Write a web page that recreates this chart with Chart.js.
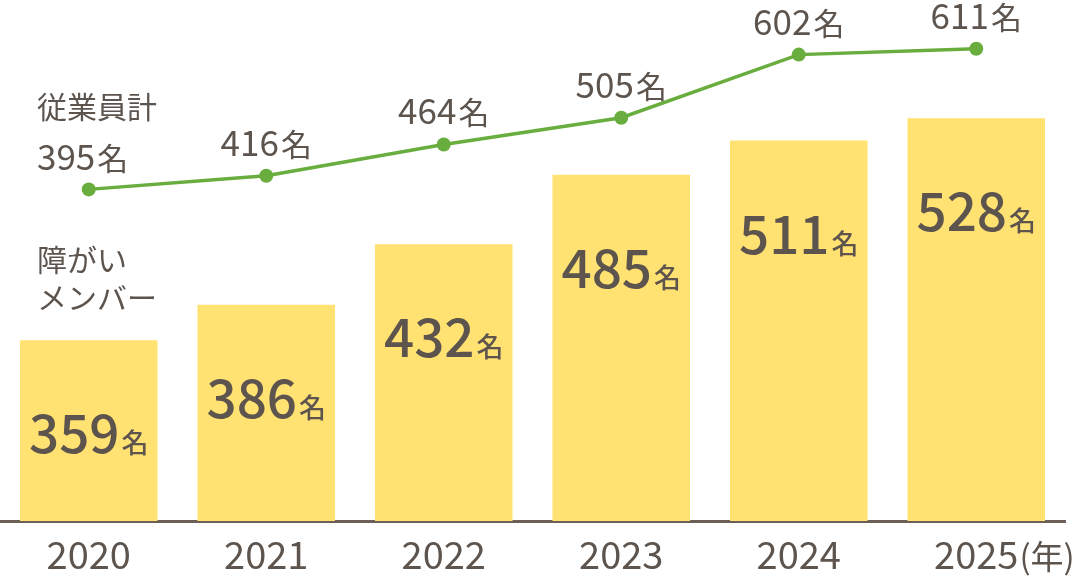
<!DOCTYPE html>
<html><head><meta charset="utf-8">
<script src="https://cdn.jsdelivr.net/npm/chart.js@4"></script>
<style>html,body{margin:0;padding:0;background:#fff}</style>
</head><body>
<canvas id="c" width="1080" height="576" style="width:1080px;height:576px;display:block"></canvas>
<script>
const years = ['2020','2021','2022','2023','2024','2025'];
const memberCounts = [359, 386, 432, 485, 511, 528];
const employeeTotals = [395, 416, 464, 505, 602, 611];
const unitLabel = '名';
const yearUnitLabel = '(年)';
const employeeTitle = '従業員計';
const memberTitle = ['障がい', 'メンバー'];

const FONT = '"Noto Sans CJK JP", "Noto Sans", sans-serif';
const TEXT = '#5d544e';
const BAR = '#ffe272';
const GREEN = '#68ad3d';

function drawMixed(ctx, num, numFont, unitFont, x, yb, align) {
  ctx.font = numFont;
  const w1 = ctx.measureText(num).width;
  ctx.font = unitFont;
  const w2 = ctx.measureText(unitLabel).width;
  const gap = 2;
  const total = w1 + gap + w2;
  const x0 = align === 'center' ? x - total / 2 : x;
  ctx.textAlign = 'left';
  ctx.textBaseline = 'alphabetic';
  ctx.font = numFont;
  ctx.fillText(num, x0, yb);
  ctx.font = unitFont;
  ctx.fillText(unitLabel, x0 + w1 + gap, yb);
}

const labelPlugin = {
  id: 'customLabels',
  afterDatasetsDraw(chart) {
    const ctx = chart.ctx;
    ctx.save();
    ctx.fillStyle = TEXT;
    chart.getDatasetMeta(1).data.forEach((el, i) => {
      drawMixed(ctx, String(memberCounts[i]), '500 53px ' + FONT, '500 27px ' + FONT, el.x, el.y + 113, 'center');
    });
    chart.getDatasetMeta(0).data.forEach((el, i) => {
      if (i === 0) return;
      drawMixed(ctx, String(employeeTotals[i]), '35px ' + FONT, '31px ' + FONT, el.x, el.y - 20, 'center');
    });
    drawMixed(ctx, String(employeeTotals[0]), '35px ' + FONT, '31px ' + FONT, 37, 170, 'left');
    ctx.textAlign = 'left';
    ctx.textBaseline = 'middle';
    ctx.font = '30px ' + FONT;
    ctx.fillText(employeeTitle, 37, 107);
    ctx.fillText(memberTitle[0], 37, 260);
    ctx.fillText(memberTitle[1], 37, 298);
    ctx.restore();
  },
  afterDraw(chart) {
    const ctx = chart.ctx;
    const xs = chart.scales.x;
    const last = years.length - 1;
    const cx = xs.getPixelForTick(last);
    ctx.save();
    ctx.font = '38px ' + FONT;
    const w = ctx.measureText(years[last]).width;
    ctx.font = '33px ' + FONT;
    ctx.fillStyle = TEXT;
    ctx.textAlign = 'left';
    ctx.textBaseline = 'middle';
    ctx.fillText(yearUnitLabel, cx + w / 2 + 1, 556);
    ctx.restore();
  }
};

new Chart(document.getElementById('c'), {
  data: {
    labels: years,
    datasets: [
      {
        type: 'line',
        data: employeeTotals,
        yAxisID: 'y2',
        borderColor: GREEN,
        backgroundColor: GREEN,
        borderWidth: 3.5,
        pointRadius: 7,
        pointHoverRadius: 7,
        pointBackgroundColor: GREEN,
        pointBorderWidth: 0,
        tension: 0,
        clip: false,
        order: 0
      },
      {
        type: 'bar',
        data: memberCounts,
        yAxisID: 'y',
        backgroundColor: BAR,
        borderWidth: 0,
        categoryPercentage: 1,
        barPercentage: 0.775,
        order: 1
      }
    ]
  },
  options: {
    responsive: false,
    animation: false,
    devicePixelRatio: 1,
    layout: { autoPadding: false, padding: { left: 0, right: 15, top: 0, bottom: 0 } },
    plugins: { legend: { display: false }, tooltip: { enabled: false } },
    scales: {
      x: {
        z: 1,
        grid: { display: false, drawTicks: false },
        border: { display: true, color: '#6b5f58', width: 3 },
        ticks: { color: TEXT, font: { size: 38, family: FONT }, padding: 11, maxRotation: 0 },
        afterFit(scale) { scale.height = 55; }
      },
      y: { display: false, min: 221.3, max: 618 },
      y2: { display: false, min: -114.4, max: 685.9 }
    }
  },
  plugins: [labelPlugin]
});
</script>
</body></html>
